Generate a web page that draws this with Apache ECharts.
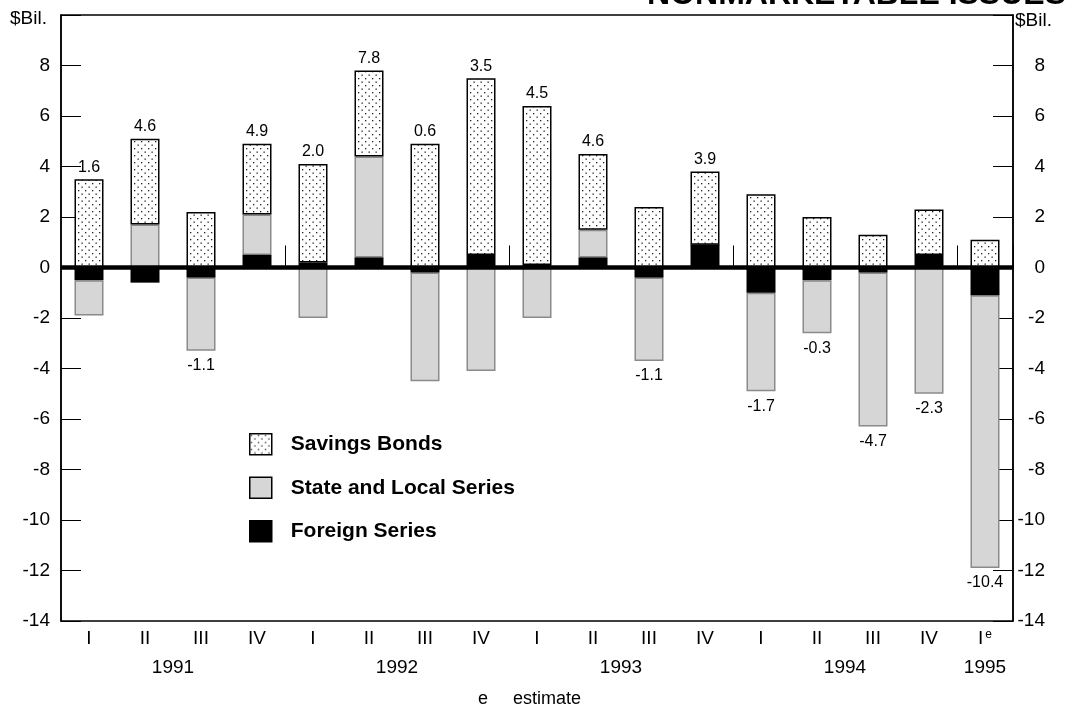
<!DOCTYPE html>
<html>
<head>
<meta charset="utf-8">
<title>Nonmarketable issues</title>
<script src="https://cdn.jsdelivr.net/npm/echarts@6/dist/echarts.min.js"></script>
<style>
  html, body { margin: 0; padding: 0; background: #fff; }
  #chart { width: 1070px; height: 709px; }
</style>
</head>
<body>
<div id="chart"></div>
<script>
// quarters, 1995 I is an estimate
const categories = [
    '1991 I', '1991 II', '1991 III', '1991 IV',
    '1992 I', '1992 II', '1992 III', '1992 IV',
    '1993 I', '1993 II', '1993 III', '1993 IV',
    '1994 I', '1994 II', '1994 III', '1994 IV',
    '1995 I'
];
const estimated = ['1995 I'];

// $ billions
const savingsBonds = [3.5, 3.4, 2.2, 2.8, 3.9, 3.4, 4.9, 7.0, 6.3, 3.0, 2.4, 2.9, 2.9, 2.0, 1.3, 1.8, 1.1];
const stateLocal = [-1.4, 1.7, -2.9, 1.6, -2.0, 4.0, -4.3, -4.1, -2.0, 1.1, -3.3, 0, -3.9, -2.1, -6.1, -5.0, -10.8];
const foreignSeries = [-0.5, -0.6, -0.4, 0.5, 0.2, 0.4, -0.2, 0.5, 0.1, 0.4, -0.4, 0.9, -1.0, -0.5, -0.2, 0.5, -1.1];
// net totals printed on the bars
const netChange = [1.6, 4.6, -1.1, 4.9, 2.0, 7.8, 0.6, 3.5, 4.5, 4.6, -1.1, 3.9, -1.7, -0.3, -4.7, -2.3, -10.4];

const font = 'Liberation Sans, Arial, Helvetica, sans-serif';

// dotted fill for savings bonds
const dots = document.createElement('canvas');
dots.width = 7;
dots.height = 7;
const ctx = dots.getContext('2d');
ctx.fillStyle = '#fff';
ctx.fillRect(0, 0, 7, 7);
ctx.fillStyle = '#222';
ctx.fillRect(1, 1, 1.3, 1.3);
ctx.fillRect(4.5, 4.5, 1.3, 1.3);

// year label sits in the middle of its quarters
const yearCenters = {};
categories.forEach((c, i) => {
    const y = c.split(' ')[0];
    (yearCenters[y] = yearCenters[y] || []).push(i + 0.5);
});
const yearAt = {};
Object.keys(yearCenters).forEach(y => {
    const a = yearCenters[y];
    yearAt[(a[0] + a[a.length - 1]) / 2] = y;
});
// year boundaries for the tall ticks
const yearStarts = categories
    .map((c, i) => (i > 0 && c.split(' ')[0] !== categories[i - 1].split(' ')[0]) ? i : -1)
    .filter(i => i > 0);

const valueAxis = {
    type: 'value',
    min: -14,
    max: 10,
    interval: 2,
    splitLine: { show: false },
    axisLine: { show: true, lineStyle: { color: '#000', width: 1.5 } },
    axisTick: { show: true, inside: true, length: 20, lineStyle: { color: '#000', width: 1 } }
};

const chart = echarts.init(document.getElementById('chart'));

chart.setOption({
    backgroundColor: '#fff',
    animation: false,
    textStyle: { fontFamily: font },
    grid: {
        left: 61,
        right: 57,
        top: 15,
        bottom: 88,
        show: true,
        borderColor: '#000',
        borderWidth: 1.5
    },
    legend: {
        orient: 'vertical',
        left: 244,
        top: 428,
        itemWidth: 22,
        itemHeight: 21,
        itemGap: 21,
        icon: 'rect',
        data: ['Savings Bonds', 'State and Local Series', 'Foreign Series'],
        itemStyle: { borderColor: '#000', borderWidth: 1.5 },
        textStyle: { fontSize: 21, fontWeight: 'bold', color: '#000', fontFamily: font, padding: [0, 0, 0, 14] }
    },
    xAxis: [
        {
            type: 'category',
            data: categories,
            axisLine: { show: false },
            axisTick: {
                show: true,
                inside: true,
                length: 22,
                interval: (i) => yearStarts.indexOf(i) >= 0,
                lineStyle: { color: '#000', width: 1 }
            },
            axisLabel: {
                fontSize: 19,
                color: '#000',
                margin: 8,
                interval: 0,
                formatter: (v) => {
                    const q = v.split(' ')[1];
                    return estimated.indexOf(v) >= 0 ? q + '{e|e}' : q;
                },
                rich: { e: { fontSize: 12, padding: [0, 0, 8, 2], color: '#000' } }
            }
        },
        {
            type: 'value',
            min: 0,
            max: categories.length,
            interval: 0.5,
            position: 'bottom',
            axisLine: { show: false },
            axisTick: { show: false },
            splitLine: { show: false },
            axisLabel: {
                fontSize: 19,
                color: '#000',
                margin: 37,
                formatter: (v) => yearAt[v] || ''
            }
        }
    ],
    yAxis: [
        Object.assign({}, valueAxis, {
            position: 'left',
            axisLabel: {
                fontSize: 19, color: '#000', margin: 11,
                formatter: (v) => v === 10 ? '' : v
            }
        }),
        Object.assign({}, valueAxis, {
            position: 'right',
            axisLabel: {
                fontSize: 19, color: '#000', margin: 32, align: 'right',
                formatter: (v) => v === 10 ? '' : v
            }
        })
    ],
    series: [
        {
            name: 'Foreign Series',
            type: 'bar',
            stack: 'total',
            barWidth: 29,
            data: foreignSeries,
            itemStyle: { color: '#000' },
            markLine: {
                silent: true,
                symbol: 'none',
                label: { show: false },
                lineStyle: { color: '#000', width: 4.5, type: 'solid' },
                data: [{ yAxis: 0 }]
            },
            z: 3
        },
        {
            name: 'State and Local Series',
            type: 'bar',
            stack: 'total',
            barWidth: 29,
            data: stateLocal,
            itemStyle: { color: '#d6d6d6', borderColor: '#8a8a8a', borderWidth: 1.5 },
            label: {
                show: true,
                position: 'bottom',
                distance: 7,
                fontSize: 16,
                color: '#000',
                formatter: (p) => netChange[p.dataIndex] < 0 ? netChange[p.dataIndex].toFixed(1) : ''
            }
        },
        {
            name: 'Savings Bonds',
            type: 'bar',
            stack: 'total',
            barWidth: 29,
            data: savingsBonds,
            itemStyle: { color: { image: dots, repeat: 'repeat' }, borderColor: '#000', borderWidth: 1.5 },
            label: {
                show: true,
                position: 'top',
                distance: 4,
                fontSize: 16,
                color: '#000',
                formatter: (p) => netChange[p.dataIndex] > 0 ? netChange[p.dataIndex].toFixed(1) : ''
            }
        }
    ],
    graphic: [
        { type: 'text', left: 10, top: 9, style: { text: '$Bil.', fontSize: 19, fill: '#000', fontFamily: font } },
        { type: 'text', left: 1015, top: 11, style: { text: '$Bil.', fontSize: 19, fill: '#000', fontFamily: font } },
        {
            type: 'text', x: 1066, y: -5,
            style: { text: 'NONMARKETABLE ISSUES', fontSize: 32, fontWeight: 'bold', fill: '#000', fontFamily: font, align: 'right', verticalAlign: 'middle' }
        },
        { type: 'text', left: 478, top: 690, style: { text: 'e     estimate', fontSize: 18, fill: '#000', fontFamily: font } }
    ]
});
</script>
</body>
</html>
